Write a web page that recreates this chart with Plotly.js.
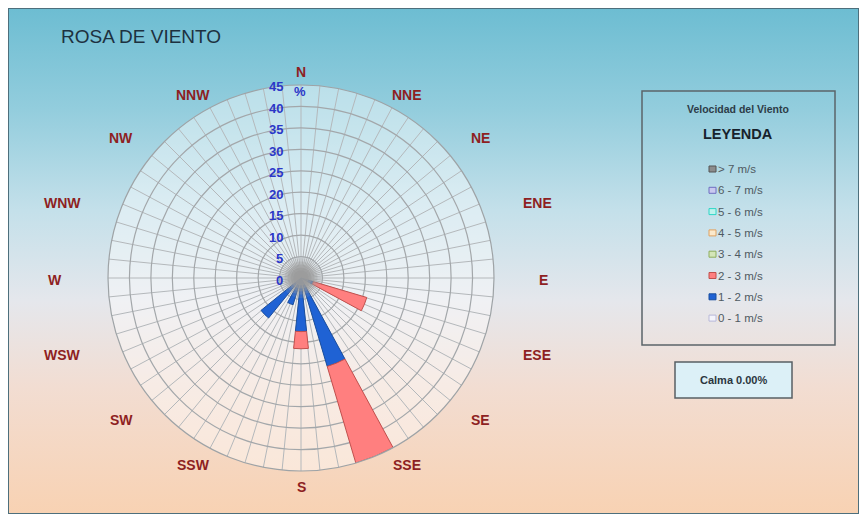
<!DOCTYPE html>
<html>
<head>
<meta charset="utf-8">
<script src="https://cdn.plot.ly/plotly-3.0.1.min.js"></script>
<style>
  html, body { margin: 0; padding: 0; background: #ffffff; }
  #frame {
    position: absolute; left: 8px; top: 8px; width: 849px; height: 504px;
    border: 1px solid #4d6f7c;
    background: linear-gradient(to bottom, #6dbdd2 0%, #93cddd 20%, #c4e0ea 40%, #e5e7ec 58%, #f2ddd2 75%, #f8d2b3 100%);
  }
  #chart { position: absolute; left: 0; top: 0; width: 863px; height: 517px; }
</style>
</head>
<body>
<div id="frame"></div>
<div id="chart"></div>
<script>
// Wind directions (clockwise from north)
const directions = ['N','NNE','NE','ENE','E','ESE','SE','SSE','S','SSW','SW','WSW','W','WNW','NW','NNW'];

// Frequency (%) per direction for each speed class
const speed0to1 = [0,0,0,0,0,0,0,0,0,0,0,0,0,0,0,0];
const speed1to2 = [0,0,0,0,0,3,0,21.5,12.5,6.5,12,0,0,0,0,0];
const speed2to3 = [0,0,0,0,0,13,0,23.5,4,0,0,0,0,0,0,0];
const speed3to4 = [0,0,0,0,0,0,0,0,0,0,0,0,0,0,0,0];
const speed4to5 = [0,0,0,0,0,0,0,0,0,0,0,0,0,0,0,0];
const speed5to6 = [0,0,0,0,0,0,0,0,0,0,0,0,0,0,0,0];
const speed6to7 = [0,0,0,0,0,0,0,0,0,0,0,0,0,0,0,0];
const speedOver7 = [0,0,0,0,0,0,0,0,0,0,0,0,0,0,0,0];

// Speed class labels, innermost first
const speedLabels = ['0 - 1 m/s','1 - 2 m/s','2 - 3 m/s','3 - 4 m/s','4 - 5 m/s','5 - 6 m/s','6 - 7 m/s','> 7 m/s'];
const speedSeries = [speed0to1, speed1to2, speed2to3, speed3to4, speed4to5, speed5to6, speed6to7, speedOver7];

// Radial tick values (%)
const radialTicks = [0,5,10,15,20,25,30,35,40,45];

// Calm percentage
const calmPct = 0.00;

// ---- styling ----
const fillColors = ['#f4f4fb','#1f62d4','#ff7f7f','#d4e6b8','#fbe9cc','#bff3ee','#c9c9ef','#8c8c8c'];
const lineColors = ['#b8b8d8','#1b4f9e','#c0504d','#8fae5e','#e0a260','#2fd6c6','#6f6fc0','#555555'];
const FONT = 'Liberation Sans, Arial, sans-serif';

const W = 863, H = 517;
const px = x => x / W;
const py = y => 1 - y / H;

const cx = 301, cy = 278, R = 193;
const rMax = 45;

const thetas = directions.map((d, i) => i * 360 / directions.length);

const traces = speedSeries.map((vals, k) => ({
  type: 'barpolar',
  name: speedLabels[k],
  r: vals,
  theta: thetas,
  width: 12,
  marker: { color: fillColors[k], line: { color: lineColors[k], width: 1 } },
  showlegend: false,
  hoverinfo: 'skip'
}));

// Calm area at the centre, soft gray disc
[40, 33, 27, 21, 15].forEach((s, i) => {
  traces.push({
    type: 'scatterpolar', mode: 'markers',
    r: [calmPct], theta: [0],
    marker: { size: s, color: 'rgba(155,155,155,' + [0.2, 0.3, 0.42, 0.55, 0.65][i] + ')', line: { width: 0 } },
    showlegend: false, hoverinfo: 'skip', cliponaxis: false
  });
});

// Direction label anchors (pixel offsets from the rose centre)
const dirLabelOffsets = [
  [0,-206],[106,-183],[179,-140],[236,-75],[242,2],[236,77],[179,142],[106,187],
  [0,209],[-108,187],[-180,142],[-239,77],[-246,2],[-239,-75],[-180,-140],[-108,-183]
];

const annotations = [];
directions.forEach((d, i) => {
  annotations.push({
    xref: 'paper', yref: 'paper',
    x: px(cx + dirLabelOffsets[i][0]), y: py(cy + dirLabelOffsets[i][1]),
    text: '<b>' + d + '</b>', showarrow: false, xanchor: 'center', yanchor: 'middle',
    font: { family: FONT, size: 14, color: '#8e1f22' }
  });
});

// Radial scale labels, right-aligned to the left of the north spoke
radialTicks.forEach(v => {
  annotations.push({
    xref: 'paper', yref: 'paper',
    x: px(cx - 16), y: py(cy + 2 - v * R / rMax),
    text: '<b>' + v + '</b>', showarrow: false, xanchor: 'right', yanchor: 'middle',
    font: { family: FONT, size: 13, color: '#2b37c8' }
  });
});

// Percent unit beside the top of the radial axis
annotations.push({
  xref: 'paper', yref: 'paper', x: px(300), y: py(92),
  text: '<b>%</b>', showarrow: false, xanchor: 'center', yanchor: 'middle',
  font: { family: FONT, size: 13, color: '#2b37c8' }
});

// Chart title
annotations.push({
  xref: 'paper', yref: 'paper', x: px(59), y: py(36),
  text: 'ROSA DE VIENTO', showarrow: false, xanchor: 'left', yanchor: 'middle',
  font: { family: FONT, size: 19, color: '#1d3140' }
});

// Legend box
const shapes = [];
const lgL = 642, lgR = 835, lgT = 91, lgB = 345;
shapes.push({ type: 'rect', xref: 'paper', yref: 'paper',
  x0: px(lgL), x1: px(lgR), y0: py(lgB), y1: py(lgT),
  line: { color: '#5b646a', width: 1.5 }, fillcolor: 'rgba(255,255,255,0)' });

annotations.push({
  xref: 'paper', yref: 'paper', x: px(738), y: py(109),
  text: '<b>Velocidad del Viento</b>', showarrow: false, xanchor: 'center', yanchor: 'middle',
  font: { family: FONT, size: 10.5, color: '#2d3c48' }
});
annotations.push({
  xref: 'paper', yref: 'paper', x: px(738), y: py(134),
  text: '<b>LEYENDA</b>', showarrow: false, xanchor: 'center', yanchor: 'middle',
  font: { family: FONT, size: 14.5, color: '#17222c' }
});

// Legend entries, fastest class on top
const itemTop = 169, itemStep = 21.3;
for (let j = 0; j < speedLabels.length; j++) {
  const k = speedLabels.length - 1 - j;
  const yy = itemTop + j * itemStep;
  shapes.push({ type: 'rect', xref: 'paper', yref: 'paper',
    x0: px(709), x1: px(716), y0: py(yy + 3), y1: py(yy - 3),
    line: { color: lineColors[k], width: 1 }, fillcolor: fillColors[k] });
  annotations.push({
    xref: 'paper', yref: 'paper', x: px(716), y: py(yy),
    text: speedLabels[k], showarrow: false, xanchor: 'left', yanchor: 'middle',
    font: { family: FONT, size: 11.5, color: '#4f5a62' }
  });
}

// Calm box
shapes.push({ type: 'rect', xref: 'paper', yref: 'paper',
  x0: px(675), x1: px(792), y0: py(398), y1: py(362),
  line: { color: '#585f64', width: 1.5 }, fillcolor: '#dcf0f7' });
annotations.push({
  xref: 'paper', yref: 'paper', x: px(733.5), y: py(380),
  text: '<b>Calma ' + calmPct.toFixed(2) + '%</b>', showarrow: false, xanchor: 'center', yanchor: 'middle',
  font: { family: FONT, size: 11, color: '#2b3640' }
});

const layout = {
  width: W, height: H,
  margin: { l: 0, r: 0, t: 0, b: 0 },
  paper_bgcolor: 'rgba(0,0,0,0)',
  plot_bgcolor: 'rgba(0,0,0,0)',
  showlegend: false,
  polar: {
    domain: { x: [px(cx - R), px(cx + R)], y: [py(cy + R), py(cy - R)] },
    bgcolor: 'rgba(255,255,255,0.42)',
    barmode: 'stack',
    angularaxis: {
      type: 'linear', thetaunit: 'degrees',
      rotation: 90, direction: 'clockwise',
      dtick: 5.625, showticklabels: false, ticks: '',
      gridcolor: '#b4b8bb', gridwidth: 1,
      showline: true, linecolor: '#9ea3a6', linewidth: 1.2
    },
    radialaxis: {
      range: [0, rMax], tickvals: radialTicks,
      angle: 90, showticklabels: false,
      showline: false, ticks: '',
      gridcolor: '#a3a7aa', gridwidth: 1.2
    }
  },
  shapes: shapes,
  annotations: annotations
};

Plotly.newPlot('chart', traces, layout, { displayModeBar: false, staticPlot: true });
</script>
</body>
</html>
